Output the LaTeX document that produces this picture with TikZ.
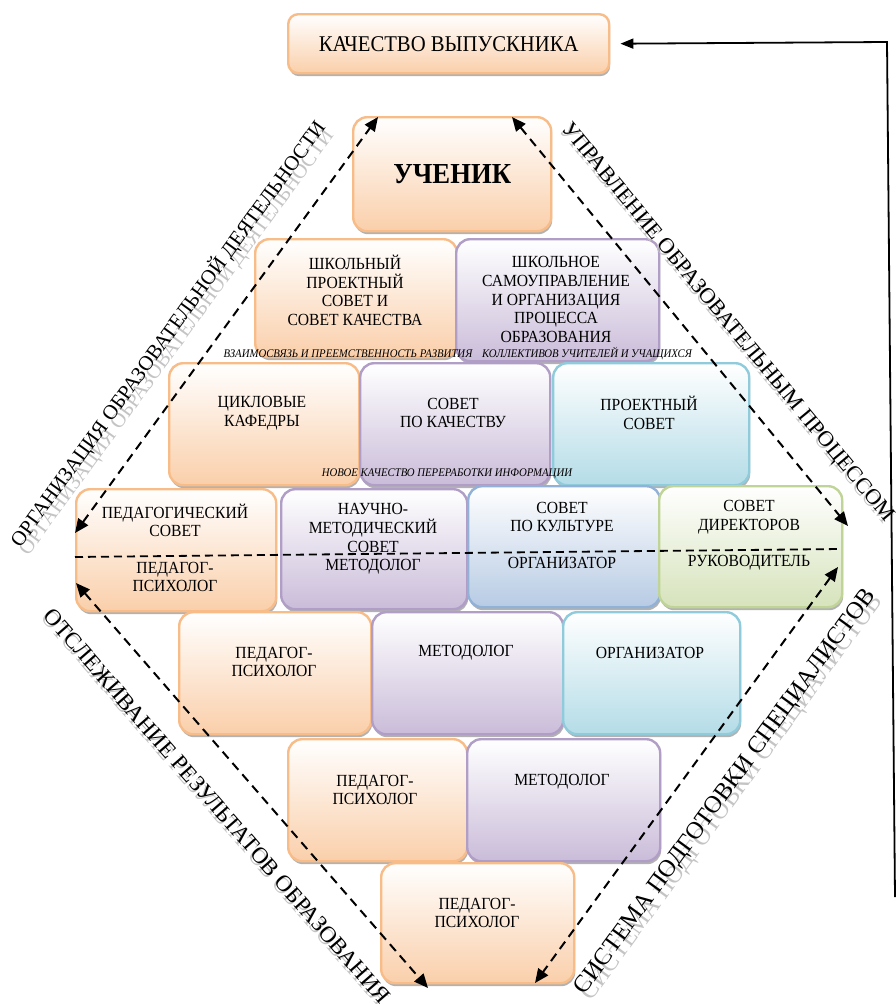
\documentclass[tikz,border=0pt]{standalone}
\usepackage{fontspec}
\usepackage{graphicx}
\setmainfont{Liberation Serif}
\newfontfamily\bxf{Liberation Serif}[FakeStretch=0.92]
\usetikzlibrary{arrows.meta,shadows}
\definecolor{oraB}{HTML}{F8BC88}
\definecolor{oraF}{HTML}{FACFAA}
\definecolor{purB}{HTML}{B09EC6}
\definecolor{purF}{HTML}{CABCD9}
\definecolor{cyaB}{HTML}{8FCBDB}
\definecolor{cyaF}{HTML}{B4DCE7}
\definecolor{bluB}{HTML}{92B1D6}
\definecolor{bluF}{HTML}{B7CBE4}
\definecolor{grnB}{HTML}{C0D498}
\definecolor{grnF}{HTML}{D6E3BB}
\definecolor{shd}{HTML}{C4C4C4}
\newcommand\mkbox[6]{\node[#1, minimum width=#4pt, minimum height=#5pt] (#2) at (#3) {#6};}
\begin{document}
\begin{tikzpicture}[x=1pt,y=-1pt,
  bxs/.style={draw, line width=2.4pt, rounded corners=14pt, anchor=north west, inner sep=0pt,
    drop shadow={shadow xshift=1pt, shadow yshift=-3pt, fill=black, opacity=0.3}},
  ora/.style={bxs, draw=oraB, top color=white, bottom color=oraF},
  pur/.style={bxs, draw=purB, top color=white, bottom color=purF},
  cya/.style={bxs, draw=cyaB, top color=white, bottom color=cyaF},
  blu/.style={bxs, draw=bluB, top color=white, bottom color=bluF},
  grn/.style={bxs, draw=grnB, top color=white, bottom color=grnF},
  tx/.style={font=\bxf\fontsize{17}{18.7}\selectfont, align=center, inner sep=0pt},
  itl/.style={font=\bxf\itshape\fontsize{11.7}{13}\selectfont, inner sep=0pt},
  rot/.style={inner sep=0pt, font=\fontsize{20}{22}\selectfont},
  rotsh/.style={rot, text=shd},
  dar/.style={line width=2pt, dash pattern=on 9pt off 6pt,
    {Triangle[length=14pt,width=12pt]}-{Triangle[length=14pt,width=12pt]}},
  conn/.style={line width=1.8pt, -{Triangle[length=13pt,width=10pt]}}
]
\fill[white] (0,0) rectangle (896,1004);
\useasboundingbox (0,0) rectangle (896,1004);

% top
\node[ora, rounded corners=10pt, minimum width=321pt, minimum height=59pt,
  font=\bxf\fontsize{22.5}{24}\selectfont] (k0) at (287,13) {КАЧЕСТВО ВЫПУСКНИКА};
\node[ora, minimum width=198pt, minimum height=114pt,
  font=\bxf\bfseries\fontsize{29}{31}\selectfont] (u) at (352,116) {УЧЕНИК};

% row 2
\mkbox{ora}{r2a}{254,238}{202}{118}{}
\mkbox{pur}{r2b}{455,238}{203}{122}{}
% row 3
\mkbox{ora}{r3a}{168,362}{190}{122}{}
\mkbox{pur}{r3b}{359,362}{190}{122}{}
\mkbox{cya}{r3c}{552,362}{196}{122}{}
% row 4
\mkbox{ora}{r4a}{75,488}{200}{122}{}
\mkbox{pur}{r4b}{280,488}{186}{120}{}
\mkbox{blu}{r4c}{467,485}{192}{121}{}
\mkbox{grn}{r4d}{658,485}{183}{121}{}
% row 5
\mkbox{ora}{r5a}{178,611}{192}{122}{}
\mkbox{pur}{r5b}{371,611}{191}{122}{}
\mkbox{cya}{r5c}{562,611}{177}{122}{}
% row 6
\mkbox{ora}{r6a}{287,738}{179}{122}{}
\mkbox{pur}{r6b}{466,738}{193}{122}{}
% row 7
\mkbox{ora}{r7}{380,862}{193}{120}{}

% texts
\node[tx] (t2a) at (355,290.5) {ШКОЛЬНЫЙ\\ПРОЕКТНЫЙ\\СОВЕТ И\\СОВЕТ КАЧЕСТВА};
\node[tx] (t2b) at (556,299.5) {ШКОЛЬНОЕ\\САМОУПРАВЛЕНИЕ\\И ОРГАНИЗАЦИЯ\\ПРОЦЕССА\\ОБРАЗОВАНИЯ};
\node[tx] (t3a) at (262,413) {ЦИКЛОВЫЕ\\КАФЕДРЫ};
\node[tx] (t3b) at (453,413) {СОВЕТ\\ПО КАЧЕСТВУ};
\node[tx] (t3c) at (649,413) {ПРОЕКТНЫЙ\\СОВЕТ};
\node[tx] (t4a) at (175,520.5) {ПЕДАГОГИЧЕСКИЙ\\СОВЕТ};
\node[tx] (t4a2) at (175,577) {ПЕДАГОГ-\\ПСИХОЛОГ};
\node[tx] (t4b) at (373,539) {НАУЧНО-\\МЕТОДИЧЕСКИЙ\\СОВЕТ\\МЕТОДОЛОГ};
\node[tx] (t4c) at (562,517) {СОВЕТ\\ПО КУЛЬТУРЕ};
\node[tx] (t4c2) at (562,563) {ОРГАНИЗАТОР};
\node[tx] (t4d) at (749,517) {СОВЕТ\\ДИРЕКТОРОВ};
\node[tx] (t4d2) at (749,563) {РУКОВОДИТЕЛЬ};
\node[tx] (t5a) at (274,662) {ПЕДАГОГ-\\ПСИХОЛОГ};
\node[tx] (t5b) at (466,653) {МЕТОДОЛОГ};
\node[tx] (t5c) at (650,653) {ОРГАНИЗАТОР};
\node[tx] (t6a) at (375,790) {ПЕДАГОГ-\\ПСИХОЛОГ};
\node[tx] (t6b) at (562,782) {МЕТОДОЛОГ};
\node[tx] (t7) at (477,913) {ПЕДАГОГ-\\ПСИХОЛОГ};

% italic labels
\node[itl] (l1) at (348,354) {ВЗАИМОСВЯЗЬ И ПРЕЕМСТВЕННОСТЬ РАЗВИТИЯ};
\node[itl] (l2) at (587,354) {КОЛЛЕКТИВОВ УЧИТЕЛЕЙ И УЧАЩИХСЯ};
\node[itl] (l3) at (447,474) {НОВОЕ КАЧЕСТВО ПЕРЕРАБОТКИ ИНФОРМАЦИИ};

% rotated side labels
\node[rotsh, rotate=54] (ulS) at (176,342) {\resizebox{520pt}{!}{ОРГАНИЗАЦИЯ ОБРАЗОВАТЕЛЬНОЙ ДЕЯТЕЛЬНОСТИ}};
\node[rot, rotate=54] (ul) at (168,334) {\resizebox{520pt}{!}{ОРГАНИЗАЦИЯ ОБРАЗОВАТЕЛЬНОЙ ДЕЯТЕЛЬНОСТИ}};
\node[rotsh, rotate=-50.5] (urS) at (725,325) {\resizebox{510pt}{!}{УПРАВЛЕНИЕ ОБРАЗОВАТЕЛЬНЫМ ПРОЦЕССОМ}};
\node[rot, rotate=-50.5] (ur) at (727,323) {\resizebox{510pt}{!}{УПРАВЛЕНИЕ ОБРАЗОВАТЕЛЬНЫМ ПРОЦЕССОМ}};
\node[rotsh, rotate=-49] (llS) at (215,808) {\resizebox{515pt}{!}{ОТСЛЕЖИВАНИЕ РЕЗУЛЬТАТОВ ОБРАЗОВАНИЯ}};
\node[rot, rotate=-49] (ll) at (217,806) {\resizebox{515pt}{!}{ОТСЛЕЖИВАНИЕ РЕЗУЛЬТАТОВ ОБРАЗОВАНИЯ}};
\node[rotsh, rotate=54] (lrS) at (733,798) {\resizebox{495pt}{!}{СИСТЕМА ПОДГОТОВКИ СПЕЦИАЛИСТОВ}};
\node[rot, rotate=54] (lr) at (726,792) {\resizebox{495pt}{!}{СИСТЕМА ПОДГОТОВКИ СПЕЦИАЛИСТОВ}};

% dashed arrows
\coordinate (ula) at (75,533);
\coordinate (ulb) at (378,117);
\coordinate (ura) at (512,117);
\coordinate (urb) at (848,526);
\coordinate (lla) at (76,583);
\coordinate (llb) at (428,988);
\coordinate (lra) at (838,567);
\coordinate (lrb) at (535,983);
\coordinate (hla) at (75,557);
\coordinate (hlb) at (840,549);
\draw[dar] (ula) -- (ulb);
\draw[dar] (ura) -- (urb);
\draw[dar] (lla) -- (llb);
\draw[dar] (lra) -- (lrb);
\draw[line width=1.8pt, dash pattern=on 8pt off 5pt] (hla) -- (hlb);

% right feedback connector
\coordinate (rb) at (895,897);
\coordinate (rt) at (887,42);
\draw[conn] (rb) -- (rt) -- ([xshift=10pt]k0.east);
\end{tikzpicture}
\end{document}
